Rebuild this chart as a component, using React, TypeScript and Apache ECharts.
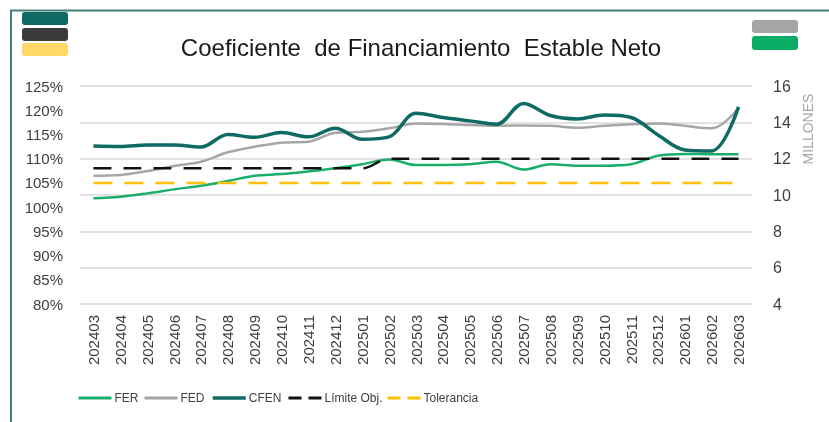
import React, { useEffect, useRef } from "react";
import * as echarts from "echarts";

const categories = [
  "202403", "202404", "202405", "202406", "202407", "202408", "202409", "202410", "202411", "202412",
  "202501", "202502", "202503", "202504", "202505", "202506", "202507", "202508", "202509", "202510",
  "202511", "202512", "202601", "202602", "202603",
];

// Millions (right axis)
const ferValues = [9.82, 9.91, 10.09, 10.31, 10.51, 10.77, 11.06, 11.15, 11.3, 11.47, 11.69, 11.96, 11.65, 11.65, 11.69, 11.83, 11.4, 11.69, 11.61, 11.61, 11.69, 12.16, 12.26, 12.24, 12.24];
const fedValues = [11.06, 11.1, 11.32, 11.6, 11.83, 12.35, 12.66, 12.88, 12.93, 13.43, 13.48, 13.67, 13.94, 13.91, 13.85, 13.81, 13.83, 13.81, 13.7, 13.81, 13.89, 13.94, 13.81, 13.67, 14.77];
// Percent (left axis)
const cfenValues = [112.6, 112.5, 112.8, 112.8, 112.4, 115.0, 114.4, 115.4, 114.5, 116.3, 114.0, 114.5, 119.4, 118.5, 117.8, 117.1, 121.4, 118.9, 118.2, 119.0, 118.5, 114.9, 111.8, 111.6, 120.7];
const limiteValues = [108, 108, 108, 108, 108, 108, 108, 108, 108, 108, 108, 110, 110, 110, 110, 110, 110, 110, 110, 110, 110, 110, 110, 110, 110];
const toleranciaValues = [105, 105, 105, 105, 105, 105, 105, 105, 105, 105, 105, 105, 105, 105, 105, 105, 105, 105, 105, 105, 105, 105, 105, 105, 105];

const leftTicks = { min: 80, max: 125, interval: 5 };
const rightTicks = { min: 4, max: 16, interval: 2 };

const FONT = '"Liberation Sans", Arial, sans-serif';
const TEXT = "#404040";

export default function App() {
  const ref = useRef<HTMLDivElement>(null);
  useEffect(() => {
    if (!ref.current) return;
    const chart = echarts.init(ref.current, null, { renderer: "svg" });
    const legendBase = {
      top: 392,
      itemWidth: 33,
      itemHeight: 10,
      itemGap: 0,
      padding: 0,
      itemStyle: { opacity: 0 },
      textStyle: { fontSize: 12, color: TEXT, fontFamily: FONT, padding: [0, 0, 0, -2] },
    };
    chart.setOption({
      animation: false,
      textStyle: { fontFamily: FONT },
      grid: { left: 80, right: 77, top: 86, bottom: 118, containLabel: false },
      legend: [
        { ...legendBase, left: 77, data: ["FER"], lineStyle: { width: 3 } },
        { ...legendBase, left: 143, data: ["FED"], lineStyle: { width: 3 } },
        { ...legendBase, left: 211, data: ["CFEN"], lineStyle: { width: 3.5 } },
        { ...legendBase, left: 287, data: ["Límite Obj."], lineStyle: { type: [13, 7], width: 3 } },
        { ...legendBase, left: 386, data: ["Tolerancia"], lineStyle: { type: [13, 7], width: 3 } },
      ],
      xAxis: {
        type: "category",
        data: categories,
        boundaryGap: true,
        axisLine: { show: false },
        axisTick: { show: false },
        axisLabel: { rotate: 90, margin: 11, fontSize: 15, color: TEXT, fontFamily: FONT, interval: 0 },
      },
      yAxis: [
        {
          type: "value",
          position: "left",
          min: leftTicks.min,
          max: leftTicks.max,
          interval: leftTicks.interval,
          splitLine: { show: false },
          axisLine: { show: false },
          axisTick: { show: false },
          axisLabel: { formatter: "{value}%", margin: 17, fontSize: 15, color: TEXT, fontFamily: FONT },
        },
        {
          type: "value",
          position: "right",
          min: rightTicks.min,
          max: rightTicks.max,
          interval: rightTicks.interval,
          splitLine: { show: true, lineStyle: { color: "#d9d9d9", width: 1.5 } },
          axisLine: { show: false },
          axisTick: { show: false },
          axisLabel: { margin: 21, fontSize: 16, color: TEXT, fontFamily: FONT },
        },
      ],
      series: [
        {
          name: "FER", type: "line", yAxisIndex: 1, data: ferValues, smooth: 0.35,
          symbol: "none", lineStyle: { color: "#1aae6a", width: 2.5 }, itemStyle: { color: "#1aae6a" },
        },
        {
          name: "FED", type: "line", yAxisIndex: 1, data: fedValues, smooth: 0.35,
          symbol: "none", lineStyle: { color: "#a6a6a6", width: 2.5 }, itemStyle: { color: "#a6a6a6" },
        },
        {
          name: "CFEN", type: "line", yAxisIndex: 0, data: cfenValues, smooth: 0.35,
          symbol: "none", lineStyle: { color: "#0f6a63", width: 3.5 }, itemStyle: { color: "#0f6a63" },
        },
        {
          name: "Límite Obj.", type: "line", yAxisIndex: 0, data: limiteValues, smooth: 0.35,
          symbol: "none", lineStyle: { color: "#111111", width: 2.5, type: [18, 12] }, itemStyle: { color: "#111111" },
        },
        {
          name: "Tolerancia", type: "line", yAxisIndex: 0, data: toleranciaValues,
          symbol: "none", lineStyle: { color: "#ffc000", width: 2.5, type: [19, 12] }, itemStyle: { color: "#ffc000" },
        },
      ],
      graphic: [
        {
          type: "polyline",
          shape: { points: [[11, 422], [11, 10.5], [829, 10.5]] },
          style: { stroke: "#457c7c", lineWidth: 2, fill: null },
        },
        { type: "rect", shape: { x: 22, y: 12, width: 46, height: 13, r: 3 }, style: { fill: "#0f6a63" } },
        { type: "rect", shape: { x: 22, y: 28, width: 46, height: 13, r: 3 }, style: { fill: "#3a3a3a" } },
        { type: "rect", shape: { x: 22, y: 43, width: 46, height: 13, r: 3 }, style: { fill: "#ffd966" } },
        { type: "rect", shape: { x: 752, y: 20, width: 46, height: 13, r: 3 }, style: { fill: "#a6a6a6" } },
        { type: "rect", shape: { x: 752, y: 36, width: 46, height: 14, r: 3 }, style: { fill: "#0aad63" } },
        {
          type: "text",
          x: 421,
          y: 47,
          style: {
            text: "Coeficiente  de Financiamiento  Estable Neto",
            fontSize: 24,
            fontFamily: FONT,
            fill: "#1a1a1a",
            align: "center",
            verticalAlign: "middle",
          },
        },
        {
          type: "text",
          x: 808,
          y: 129,
          rotation: Math.PI / 2,
          style: {
            text: "MILLONES",
            fontSize: 14,
            fontFamily: FONT,
            fill: "#a6a6a6",
            align: "center",
            verticalAlign: "middle",
          },
        },
      ],
    });
    return () => chart.dispose();
  }, []);
  return <div ref={ref} style={{ position: "fixed", left: 0, top: 0, width: 829, height: 422 }} />;
}
